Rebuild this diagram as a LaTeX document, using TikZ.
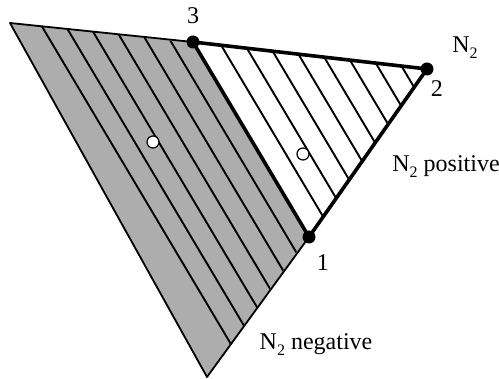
\documentclass[tikz,border=0pt]{standalone}
\usepackage{fontspec}
\setmainfont{Liberation Serif}
\usetikzlibrary{positioning}
\definecolor{regionGrey}{HTML}{ADADAD}
\newcommand{\Ntwo}{N\raisebox{-0.55ex}{\footnotesize 2}}

\begin{document}
\begin{tikzpicture}[x=0.5pt, y=-0.5pt, font=\fontsize{12}{14}\selectfont,
    vertex/.style={circle, fill=black, inner sep=0pt, minimum size=6.5pt},
    centre/.style={circle, draw=black, line width=0.6pt, fill=white, inner sep=0pt, minimum size=6pt},
    thinedge/.style={line width=0.9pt},
    thickedge/.style={line width=1.8pt}]
  \useasboundingbox (0,0) rectangle (499,379);
  \coordinate (tl) at (10,23);
  \coordinate (bot) at (207,377);
  \coordinate (c3) at (193,42);
  \coordinate (c2) at (427,69);
  \coordinate (c1) at (309,237);
  \fill[regionGrey] (tl) -- (c3) -- (c1) -- (bot) -- cycle;
  \begin{scope}
    \clip (tl) -- (c2) -- (bot) -- cycle;
    \foreach \k in {0,...,5,7,8,...,14}
      \draw[line width=0.95pt] ({26.2+24*\k},0) -- ({26.2+24*\k+0.595*400},400);
  \end{scope}
  \draw[thinedge, line join=round] (c3) -- (tl) -- (bot) -- (c1);
  \draw[thickedge, line join=round] (c1) -- (c3) -- (c2) -- cycle;
  \node[vertex] (p3) at (c3) {};
  \node[vertex] (p2) at (c2) {};
  \node[vertex] (p1) at (c1) {};
  \node[centre] (g) at (153,142) {};
  \node[centre] (w) at (303,154) {};
  \node[above=2pt of p3] (l3) {3};
  \node[below right=0pt and -4pt of p2] (l2) {2};
  \node[below right=3pt and -2pt of p1] (l1) {1};
  \node (n2) at (465,48) {\Ntwo};
  \node (pos) at (446,167) {\Ntwo{} positive};
  \node (neg) at (316,345) {\Ntwo{} negative};
\end{tikzpicture}
\end{document}
